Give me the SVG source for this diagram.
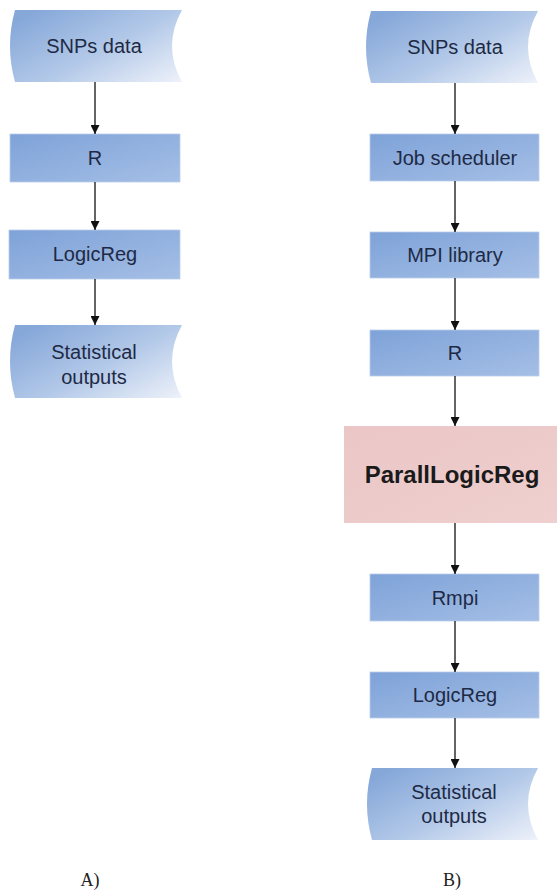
<svg xmlns="http://www.w3.org/2000/svg" width="557" height="892" viewBox="0 0 557 892">
<defs>
<linearGradient id="gBox" x1="0" y1="0" x2="1" y2="1">
<stop offset="0" stop-color="#7ea2d8"/>
<stop offset="1" stop-color="#a5bfe6"/>
</linearGradient>
<linearGradient id="gData" x1="0" y1="0.2" x2="1" y2="1">
<stop offset="0" stop-color="#86a8d9"/>
<stop offset="0.5" stop-color="#b2c8e8"/>
<stop offset="1" stop-color="#eef2fa"/>
</linearGradient>
<linearGradient id="gPink" x1="0" y1="0" x2="1" y2="1">
<stop offset="0" stop-color="#ebc6c6"/>
<stop offset="1" stop-color="#efcfcf"/>
</linearGradient>
<marker id="ah" viewBox="0 0 10 10" refX="10" refY="5" markerWidth="9" markerHeight="9" markerUnits="userSpaceOnUse" orient="auto">
<path d="M0,0 L10,5 L0,10 z" fill="#111"/>
</marker>
</defs>
<style>
.box{fill:url(#gBox);stroke:#b9cdea;stroke-width:0.8}
.data{fill:url(#gData)}
.lbl{font-family:"Liberation Sans",Arial,sans-serif;font-size:20px;fill:#1e2a45;text-anchor:middle}
.big{font-family:"Liberation Sans",Arial,sans-serif;font-size:24px;font-weight:bold;fill:#1a1a1a;text-anchor:middle}
.cap{font-family:"Liberation Serif","Times New Roman",serif;font-size:18px;fill:#222;text-anchor:middle}
.arr{stroke:#111;stroke-width:1.3;fill:none;marker-end:url(#ah)}
</style>

<g id="A-snps">
<path class="data" d="M15,10 L182,10 Q162,46 182,82 L15,82 Q5,46 15,10 z"/>
<text class="lbl" x="94" y="53">SNPs data</text>
</g>
<g id="A-R">
<rect class="box" x="10" y="134" width="170" height="48"/>
<text class="lbl" x="95" y="165">R</text>
</g>
<g id="A-logicreg">
<rect class="box" x="9" y="230" width="171" height="49"/>
<text class="lbl" x="95" y="261">LogicReg</text>
</g>
<g id="A-stat">
<path class="data" d="M15,325 L182,325 Q162,361 182,398 L15,398 Q5,361 15,325 z"/>
<text class="lbl" x="94" y="359">Statistical</text>
<text class="lbl" x="94" y="384">outputs</text>
</g>

<g id="B-snps">
<path class="data" d="M371,11 L538,11 Q518,47 538,83 L371,83 Q361,47 371,11 z"/>
<text class="lbl" x="455" y="54">SNPs data</text>
</g>
<g id="B-job">
<rect class="box" x="370" y="134" width="169" height="47"/>
<text class="lbl" x="455" y="165">Job scheduler</text>
</g>
<g id="B-mpi">
<rect class="box" x="370" y="232" width="169" height="46"/>
<text class="lbl" x="455" y="262">MPI library</text>
</g>
<g id="B-R">
<rect class="box" x="370" y="330" width="169" height="46"/>
<text class="lbl" x="455" y="360">R</text>
</g>
<g id="B-parall">
<rect x="344" y="426" width="213" height="97" fill="url(#gPink)"/>
<text class="big" x="452" y="483">ParallLogicReg</text>
</g>
<g id="B-rmpi">
<rect class="box" x="370" y="574" width="169" height="47"/>
<text class="lbl" x="455" y="605">Rmpi</text>
</g>
<g id="B-logicreg">
<rect class="box" x="370" y="672" width="169" height="46"/>
<text class="lbl" x="455" y="702">LogicReg</text>
</g>
<g id="B-stat">
<path class="data" d="M372,768 L538,768 Q518,804 538,840 L372,840 Q362,804 372,768 z"/>
<text class="lbl" x="454" y="799">Statistical</text>
<text class="lbl" x="454" y="823">outputs</text>
</g>

<g id="connectors">
<line class="arr" x1="95" y1="82" x2="95" y2="134"/>
<line class="arr" x1="95" y1="182" x2="95" y2="230"/>
<line class="arr" x1="95" y1="279" x2="95" y2="325"/>
<line class="arr" x1="455" y1="83" x2="455" y2="134"/>
<line class="arr" x1="455" y1="181" x2="455" y2="232"/>
<line class="arr" x1="455" y1="278" x2="455" y2="330"/>
<line class="arr" x1="455" y1="376" x2="455" y2="426"/>
<line class="arr" x1="455" y1="523" x2="455" y2="574"/>
<line class="arr" x1="455" y1="621" x2="455" y2="672"/>
<line class="arr" x1="455" y1="718" x2="455" y2="768"/>
</g>

<text class="cap" x="90" y="886">A)</text>
<text class="cap" x="452" y="886">B)</text>
</svg>
